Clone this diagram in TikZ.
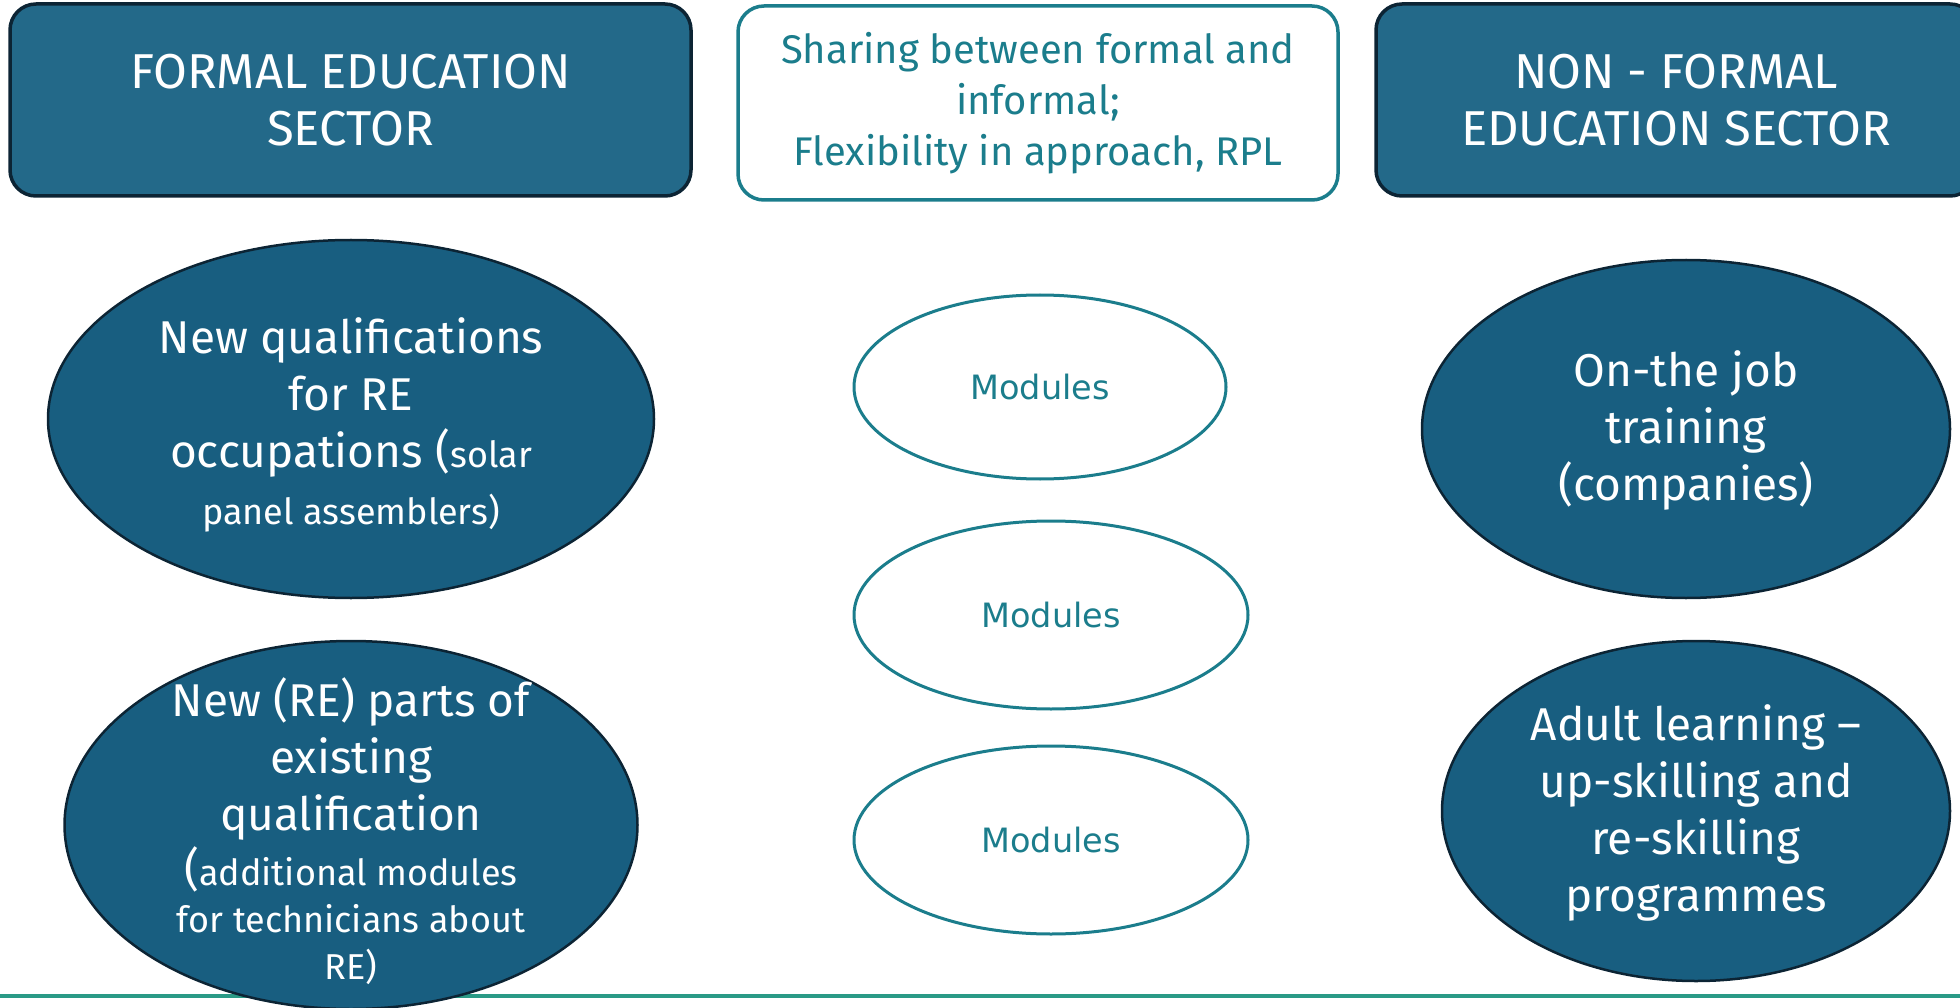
\documentclass[tikz,border=0pt]{standalone}
\usepackage{fontspec}
\setmainfont{Fira Sans}
\newfontfamily\modfont{DejaVu Sans}
\usetikzlibrary{shapes.geometric}
\definecolor{hdrfill}{RGB}{35,105,137}
\definecolor{ellfill}{RGB}{24,94,128}
\definecolor{navy}{RGB}{12,36,52}
\definecolor{tealc}{RGB}{27,125,140}
\definecolor{rulec}{RGB}{42,154,134}
\newcommand{\smalltxt}{\fontsize{36}{44}\selectfont}
\begin{document}
\begin{tikzpicture}[x=1pt,y=-1pt,
  hdr/.style={draw=navy, line width=3.5pt, fill=hdrfill, rounded corners=26pt, text=white,
    inner sep=0pt, align=center, font=\fontsize{49}{57}\selectfont},
  midbox/.style={draw=tealc, line width=3.5pt, fill=white, rounded corners=26pt, text=tealc,
    inner sep=0pt, align=center, font=\fontsize{40}{51}\selectfont},
  bigell/.style={ellipse, draw=navy, line width=2.5pt, fill=ellfill, inner sep=0pt},
  modell/.style={ellipse, draw=tealc, line width=3pt, fill=white, inner sep=0pt, text=tealc,
    font=\modfont\fontsize{33.5}{40}\selectfont},
  etext/.style={text=white, align=center, inner sep=0pt, font=\fontsize{46}{57}\selectfont},
  ]
\useasboundingbox (0,0) rectangle (1960,1008);

% bottom rule
\coordinate (rl) at (0,996);
\coordinate (rr) at (1960,996);
\draw[rulec, line width=4pt] (rl) -- (rr);

% headers
\node[hdr, minimum width=681pt, minimum height=192pt] (formal) at (350.5,100) {FORMAL EDUCATION\\SECTOR};
\node[midbox, minimum width=600pt, minimum height=194pt] (share) at (1038,103)
  {Sharing between formal and\\informal;\\Flexibility in approach, RPL};
\node[hdr, minimum width=600pt, minimum height=192pt] (nonformal) at (1676,100) {NON - FORMAL\\EDUCATION SECTOR};

% left ellipses
\node[bigell, minimum width=606pt, minimum height=358pt] (newq) at (351,419) {};
\node[etext] (newqt) at (351,425) {New qualifications\\for RE\\occupations ({\smalltxt solar}\\{\smalltxt panel assemblers)}};

\node[bigell, minimum width=573pt, minimum height=368pt] (newp) at (351,825) {};
\node[etext] (newpt) at (351,831) {New (RE) parts of\\existing\\qualification\\[-2pt]({\smalltxt additional modules}\\[-10pt]{\smalltxt for technicians about}\\[-10pt]{\smalltxt RE)}};

% modules
\node[modell, minimum width=372pt, minimum height=184pt] (m1) at (1040,387) {Modules};
\node[modell, minimum width=394pt, minimum height=188pt] (m2) at (1051,615) {Modules};
\node[modell, minimum width=394pt, minimum height=188pt] (m3) at (1051,840) {Modules};

% right ellipses
\node[bigell, minimum width=528pt, minimum height=338pt] (ojt) at (1686,429) {};
\node[etext] (ojtt) at (1686,430) {On-the job\\training\\(companies)};

\node[bigell, minimum width=508pt, minimum height=340pt] (adult) at (1696,811) {};
\node[etext] (adultt) at (1696,813) {Adult learning --\\up-skilling and\\re-skilling\\programmes};
\end{tikzpicture}
\end{document}
